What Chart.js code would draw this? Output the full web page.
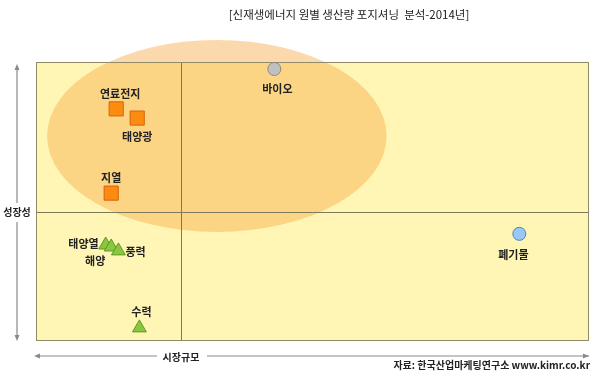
<!DOCTYPE html>
<html>
<head>
<meta charset="utf-8">
<script src="https://cdn.jsdelivr.net/npm/chart.js@4"></script>
<style>
  body { margin: 0; background: #fff; }
  #wrap { width: 600px; height: 378px; position: relative; }
</style>
</head>
<body>
<div id="wrap"><canvas id="chart" width="600" height="378"></canvas></div>
<script>
// data (0-100 relative scale)
const names   = ['바이오', '연료전지', '태양광', '지열', '태양열', '해양', '풍력', '수력', '폐기물'];
const growth  = [97.5, 83.2, 79.9, 53.0, 34.4, 33.7, 32.3, 4.7, 38.4];   // 성장성 (y)
const market  = [43.1, 14.5, 18.3, 13.6, 12.6, 13.6, 14.9, 18.7, 87.4];  // 시장규모 (x)
const groups  = ['bio', 'sq', 'sq', 'sq', 'tri', 'tri', 'tri', 'tri', 'waste'];
const xDivide = 26.2;
const yDivide = 46.2;
// highlighted zone: center x, center y, radius x, radius y
const zone = { cx: 32.7, cy: 73.5, rx: 30.7, ry: 34.4 };

const title = '[신재생에너지 원별 생산량 포지셔닝  분석-2014년]';
const source = '자료: 한국산업마케팅연구소 www.kimr.co.kr';

// label offsets in px relative to the marker (style only)
const labelOffsets = [
  [3, 20, 'center'], [4, -15, 'center'], [0, 19, 'center'], [0, -15, 'center'],
  [-7, -1, 'right'], [-16, 14, 'center'], [7, 1, 'left'], [2, -16, 'center'], [-6, 21, 'center']
];

const font = '"Noto Sans CJK KR", "Noto Sans", sans-serif';

const groupStyles = {
  sq:    { pointStyle: 'rect', radius: 10, bg: '#fb8c11', border: '#d9620a' },
  tri:   { pointStyle: 'triangle', radius: 8, bg: '#8cc53f', border: '#5f9a22' },
  bio:   { pointStyle: 'circle', radius: 6.5, bg: '#c0c0c0', border: '#8a8a8a' },
  waste: { pointStyle: 'circle', radius: 6.5, bg: '#99c8f5', border: '#4e83c4' }
};

const datasets = Object.keys(groupStyles).map(g => {
  const s = groupStyles[g];
  const pts = [];
  names.forEach((n, i) => { if (groups[i] === g) pts.push({ x: market[i], y: growth[i], idx: i }); });
  return {
    data: pts,
    pointStyle: s.pointStyle,
    pointRadius: s.radius,
    pointHoverRadius: s.radius,
    backgroundColor: s.bg,
    borderColor: s.border,
    borderWidth: 1,
    clip: false
  };
});

const mapPlugin = {
  id: 'mapPlugin',
  beforeDatasetsDraw(chart) {
    const { ctx, chartArea: a, scales: { x, y } } = chart;
    ctx.save();
    ctx.fillStyle = '#fff6b6';
    ctx.fillRect(a.left, a.top, a.right - a.left, a.bottom - a.top);

    // ellipse zone
    const cx = x.getPixelForValue(zone.cx), cy = y.getPixelForValue(zone.cy);
    const rx = Math.abs(x.getPixelForValue(zone.cx + zone.rx) - cx);
    const ry = Math.abs(y.getPixelForValue(zone.cy + zone.ry) - cy);
    ctx.fillStyle = 'rgba(247,170,70,0.45)';
    ctx.beginPath();
    ctx.ellipse(cx, cy, rx, ry, 0, 0, Math.PI * 2);
    ctx.fill();

    // quadrant lines
    ctx.strokeStyle = '#7d7a5a';
    ctx.lineWidth = 1;
    const qx = Math.round(x.getPixelForValue(xDivide)) + 0.5;
    const qy = Math.round(y.getPixelForValue(yDivide)) + 0.5;
    ctx.beginPath();
    ctx.moveTo(qx, a.top); ctx.lineTo(qx, a.bottom);
    ctx.moveTo(a.left, qy); ctx.lineTo(a.right, qy);
    ctx.stroke();

    // frame
    ctx.strokeStyle = '#8e8b66';
    ctx.strokeRect(a.left + 0.5, a.top + 0.5, a.right - a.left - 1, a.bottom - a.top - 1);
    ctx.restore();
  },
  afterDatasetsDraw(chart) {
    const { ctx, chartArea: a, scales: { x, y } } = chart;
    ctx.save();
    ctx.fillStyle = '#222';
    ctx.font = 'bold 11px ' + font;
    ctx.textBaseline = 'middle';
    names.forEach((n, i) => {
      const px = x.getPixelForValue(market[i]);
      const py = y.getPixelForValue(growth[i]);
      const [dx, dy, align] = labelOffsets[i];
      ctx.textAlign = align;
      ctx.fillText(n, px + dx, py + dy);
    });

    // title
    ctx.fillStyle = '#222';
    ctx.font = '11.5px ' + font;
    ctx.textAlign = 'center';
    ctx.fillText(title, 349, 15);

    // axis arrows
    ctx.strokeStyle = '#8a8a8a';
    ctx.fillStyle = '#8a8a8a';
    ctx.lineWidth = 1.2;
    const ay = 356;
    ctx.beginPath();
    ctx.moveTo(a.left, ay); ctx.lineTo(157, ay);
    ctx.moveTo(207, ay); ctx.lineTo(a.right, ay);
    ctx.moveTo(17, 67); ctx.lineTo(17, 203);
    ctx.moveTo(17, 222); ctx.lineTo(17, 338);
    ctx.stroke();
    const arrow = (x0, y0, dx, dy) => {
      ctx.beginPath();
      ctx.moveTo(x0, y0);
      ctx.lineTo(x0 - dx * 6 - dy * 2.5, y0 - dy * 6 - dx * 2.5);
      ctx.lineTo(x0 - dx * 6 + dy * 2.5, y0 - dy * 6 + dx * 2.5);
      ctx.closePath();
      ctx.fill();
    };
    arrow(a.left - 2, ay, -1, 0);
    arrow(a.right, ay, 1, 0);
    arrow(17, 64, 0, -1);
    arrow(17, 341, 0, 1);

    ctx.fillStyle = '#222';
    ctx.font = 'bold 10px ' + font;
    ctx.textAlign = 'center';
    ctx.fillText('시장규모', 181, 357);
    ctx.fillText('성장성', 17, 212);

    ctx.textAlign = 'right';
    ctx.font = 'bold 10px ' + font;
    ctx.fillText(source, 590, 365);
    ctx.restore();
  }
};

new Chart(document.getElementById('chart').getContext('2d'), {
  type: 'scatter',
  data: { datasets },
  options: {
    responsive: false,
    animation: false,
    layout: { padding: { left: 36, right: 7, top: 62, bottom: 37 } },
    plugins: { legend: { display: false }, tooltip: { enabled: false } },
    scales: {
      x: { display: false, min: 0, max: 100 },
      y: { display: false, min: 0, max: 100 }
    }
  },
  plugins: [mapPlugin]
});
</script>
</body>
</html>
